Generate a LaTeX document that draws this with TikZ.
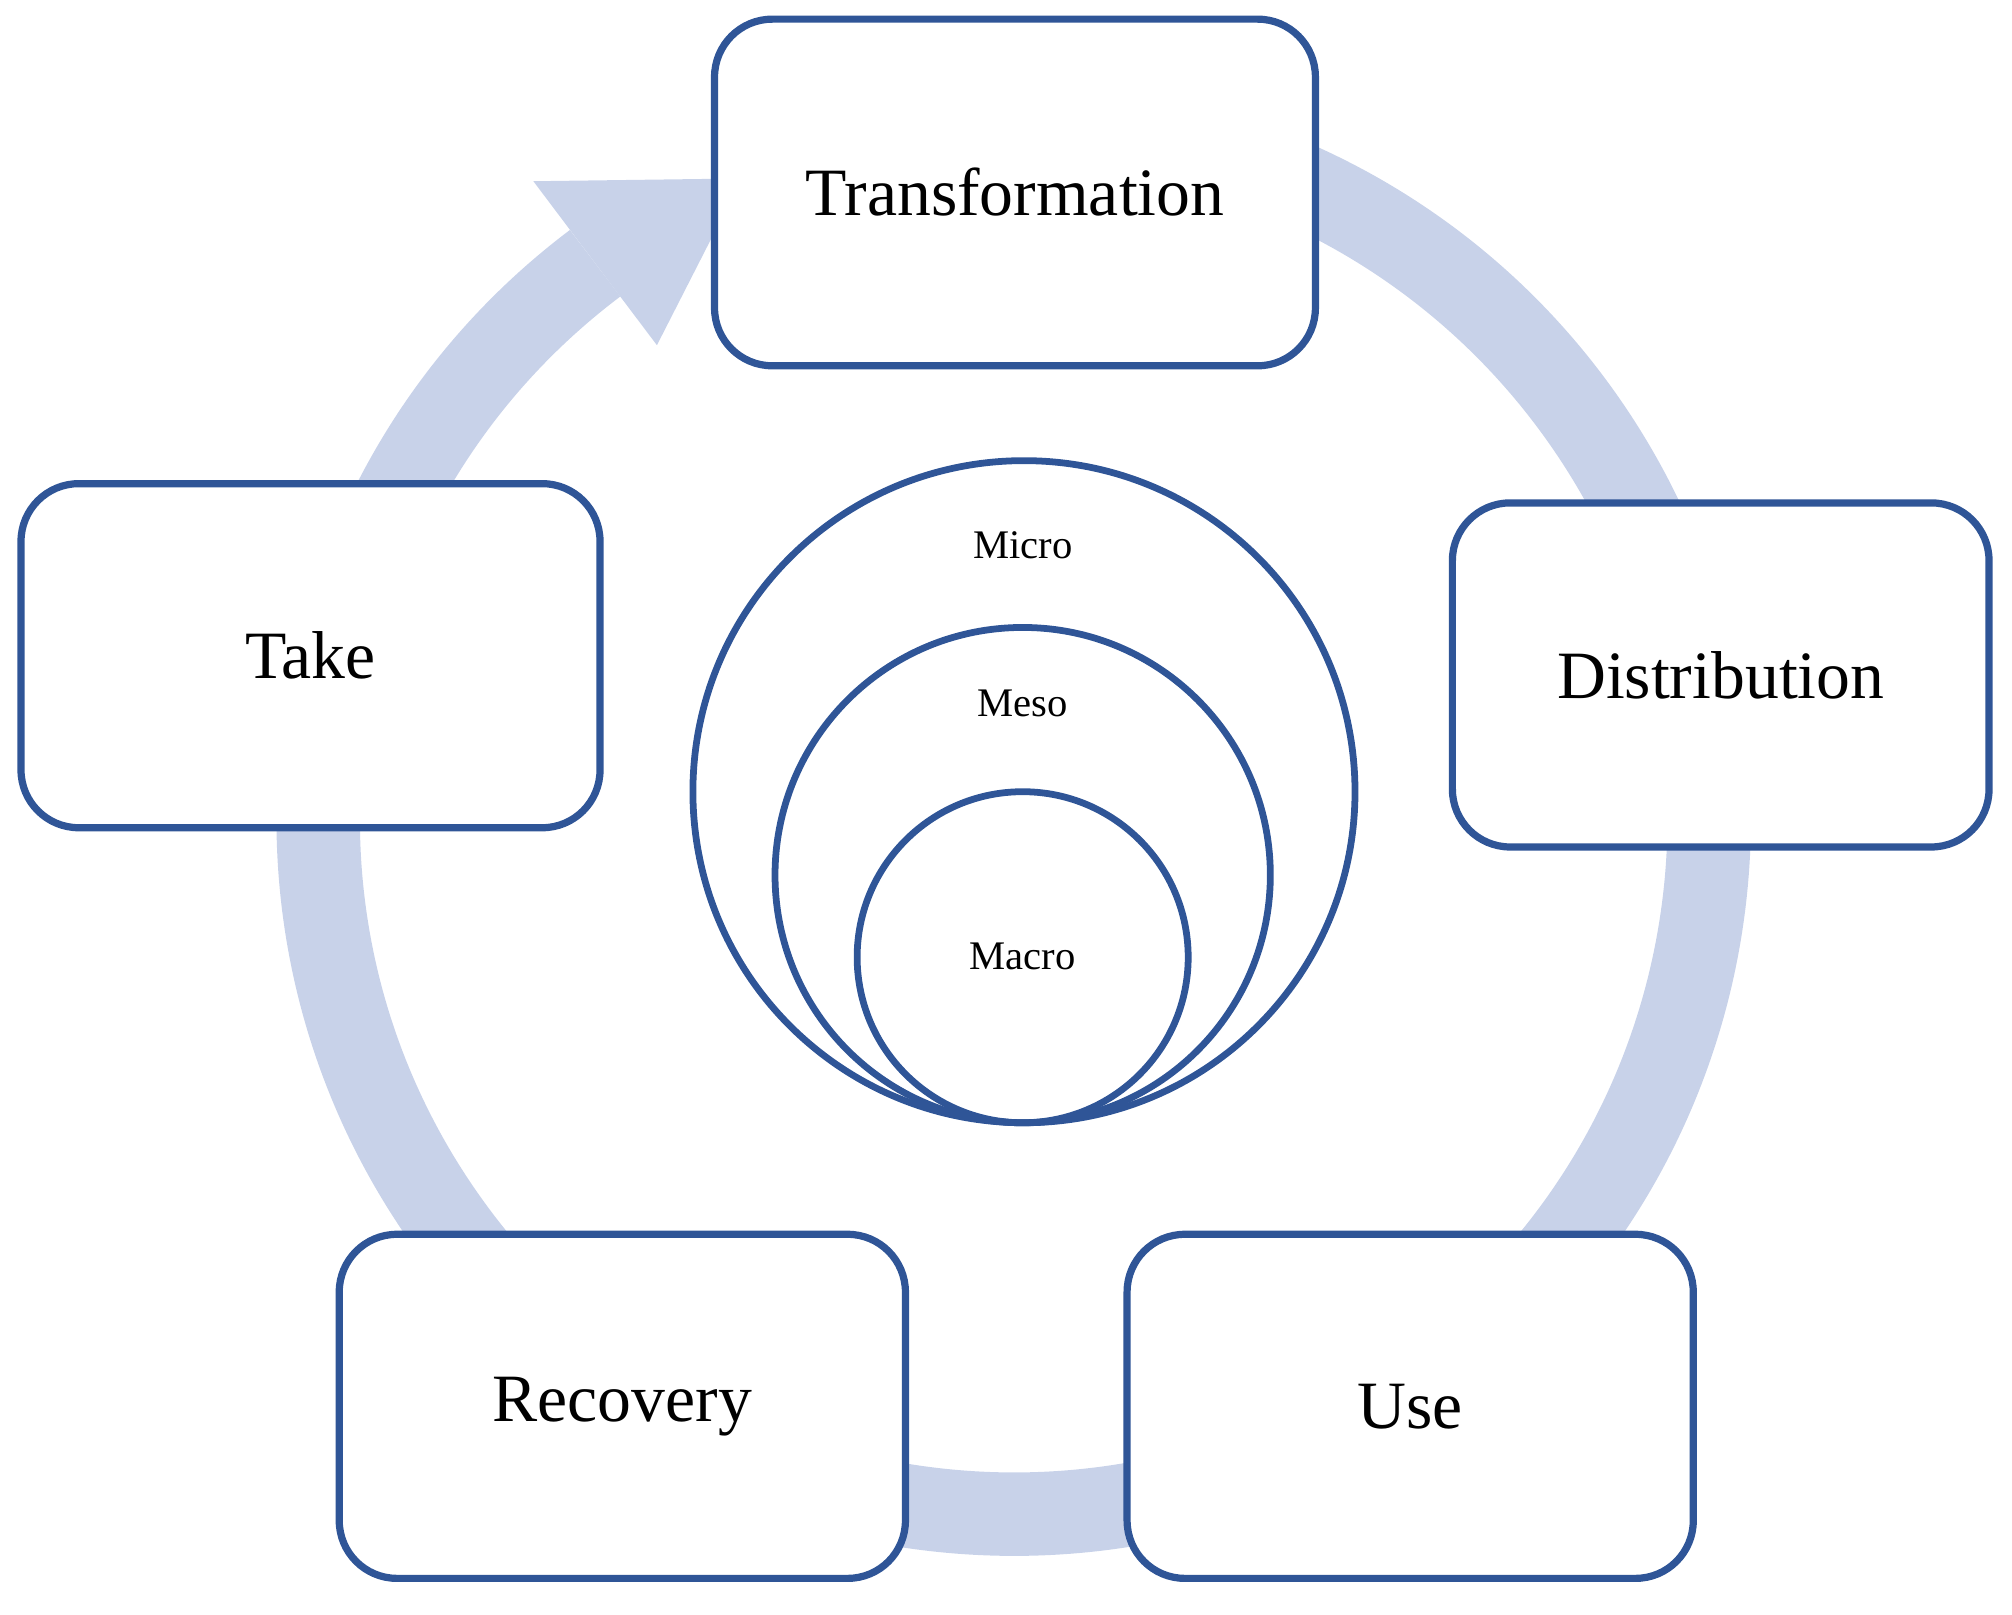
\documentclass[tikz,border=0pt]{standalone}
\usepackage{fontspec}
\setmainfont{Liberation Serif}
\begin{document}
\begin{tikzpicture}[x=0.01cm,y=0.01cm,
  box/.style={draw=boxblue,line width=1.6pt,rounded corners=0.45cm,fill=white,font=\fontsize{15}{18}\selectfont},
  ring/.style={draw=boxblue,line width=1.5pt},
  lbl/.style={font=\fontsize{9}{11}\selectfont}]
\definecolor{boxblue}{RGB}{47,85,151}
\definecolor{ringblue}{RGB}{200,210,233}
\useasboundingbox (0,0) rectangle (1568,-1258);
\begin{scope}[shift={(790,-638)}]
  \draw[ringblue,line width=0.65cm] (127:542) arc[start angle=127,end angle=460,radius=542];
  \fill[ringblue] (127:622) -- (113:542) -- (127:462) -- cycle;
\end{scope}
\node[box,minimum width=4.68cm,minimum height=2.7cm] (tr) at (791,-150) {Transformation};
\node[box,minimum width=4.51cm,minimum height=2.68cm] (tk) at (242,-511) {Take};
\node[box,minimum width=4.18cm,minimum height=2.68cm] (di) at (1341,-526) {Distribution};
\node[box,minimum width=4.41cm,minimum height=2.68cm] (re) at (485,-1096) {Recovery};
\node[box,minimum width=4.41cm,minimum height=2.68cm] (us) at (1099,-1096) {Use};
\draw[ring] (798,-617) circle[radius=258];
\draw[ring] (797,-682) circle[radius=193];
\draw[ring] (797,-746) circle[radius=129];
\node[lbl] (mi) at (797,-425) {Micro};
\node[lbl] (me) at (797,-548) {Meso};
\node[lbl] (ma) at (797,-745) {Macro};
\end{tikzpicture}
\end{document}
